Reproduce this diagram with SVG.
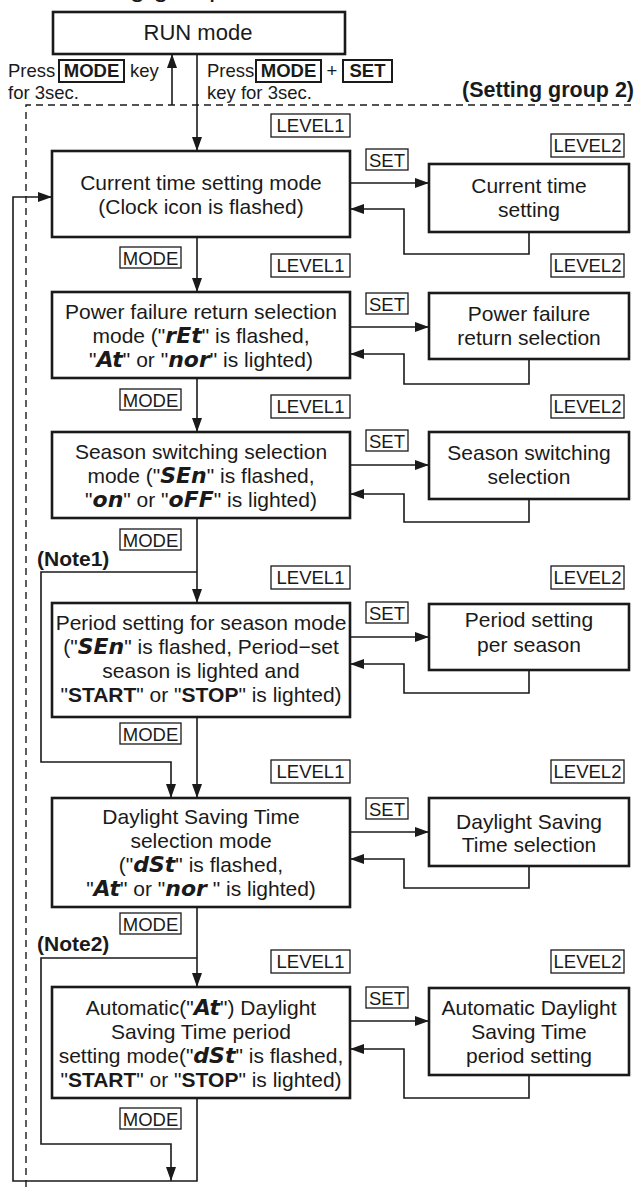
<svg xmlns="http://www.w3.org/2000/svg" width="635" height="1187" viewBox="0 0 635 1187">
<style>
text{font-family:"Liberation Sans",Arial,sans-serif;fill:#1a1a1a}
.t{font-size:21px;text-anchor:middle}
.lb{font-size:18.5px;text-anchor:middle}
.tp{font-size:18.5px}
.b{font-weight:bold}
.seg{font-weight:bold;font-style:italic;font-size:22px;font-family:"DejaVu Sans","Liberation Sans",sans-serif}
.note{font-size:21px;font-weight:bold}
.box{fill:#fff;stroke:#1a1a1a;stroke-width:2.6}
.lbox{fill:#fff;stroke:#1a1a1a;stroke-width:1.3}
.kbox{fill:#fff;stroke:#1a1a1a;stroke-width:2}
.c{fill:none;stroke:#1a1a1a;stroke-width:1.6}
.dash{fill:none;stroke:#1a1a1a;stroke-width:1.4;stroke-dasharray:7 5}
</style>
<defs>
<marker id="ah" viewBox="0 0 14 10" refX="14" refY="5" markerWidth="14" markerHeight="10" markerUnits="userSpaceOnUse" orient="auto">
<path d="M0,0 L14,5 L0,10 z" fill="#1a1a1a"/>
</marker>
</defs>

<text x="58" y="-4" style="font-size:28px">Setting group</text>

<g id="connectors">
<path class="dash" d="M26,1187 V105 H635"/>
<path class="c" d="M172,105 V54" marker-end="url(#ah)"/>
<path class="c" d="M197,54 V151" marker-end="url(#ah)"/>
<path class="c" d="M197,237 V292" marker-end="url(#ah)"/>
<path class="c" d="M197,378 V432" marker-end="url(#ah)"/>
<path class="c" d="M197,518 V603" marker-end="url(#ah)"/>
<path class="c" d="M197,717 V798" marker-end="url(#ah)"/>
<path class="c" d="M197,907 V987" marker-end="url(#ah)"/>
<path class="c" d="M197,572 H41 V762 H171 V798" marker-end="url(#ah)"/>
<path class="c" d="M197,958 H41 V1144 H171 V1181" marker-end="url(#ah)"/>
<path class="c" d="M197,1098 V1181 H13 V197 H52" marker-end="url(#ah)"/>
<path class="c" d="M350,183 H429" marker-end="url(#ah)"/>
<path class="c" d="M529,232 V254 H404 V209 H350" marker-end="url(#ah)"/>
<path class="c" d="M350,327 H429" marker-end="url(#ah)"/>
<path class="c" d="M529,359 V384 H404 V354 H350" marker-end="url(#ah)"/>
<path class="c" d="M350,465 H429" marker-end="url(#ah)"/>
<path class="c" d="M529,499 V522 H404 V494 H350" marker-end="url(#ah)"/>
<path class="c" d="M350,637 H429" marker-end="url(#ah)"/>
<path class="c" d="M529,670 V693 H404 V664 H350" marker-end="url(#ah)"/>
<path class="c" d="M350,832 H429" marker-end="url(#ah)"/>
<path class="c" d="M529,866 V888 H404 V859 H350" marker-end="url(#ah)"/>
<path class="c" d="M350,1021 H429" marker-end="url(#ah)"/>
<path class="c" d="M529,1075 V1098 H404 V1049 H350" marker-end="url(#ah)"/>
</g>

<g id="run">
<rect class="box" x="53" y="12" width="292" height="42"/>
<text class="t" x="198" y="40" style="font-size:22px">RUN mode</text>
</g>

<g id="keys-exit">
<text class="tp" x="8" y="77">Press</text>
<rect class="kbox" x="59" y="60" width="65" height="22"/>
<text class="tp b" x="91.5" y="77" text-anchor="middle">MODE</text>
<text class="tp" x="130" y="77">key</text>
<text class="tp" x="8" y="99">for 3sec.</text>
</g>
<g id="keys-enter">
<text class="tp" x="207" y="77">Press</text>
<rect class="kbox" x="256" y="60" width="65" height="22"/>
<text class="tp b" x="288.5" y="77" text-anchor="middle">MODE</text>
<text class="tp" x="332" y="77" text-anchor="middle">+</text>
<rect class="kbox" x="343" y="60" width="49" height="22"/>
<text class="tp b" x="367.5" y="77" text-anchor="middle">SET</text>
<text class="tp" x="207" y="99">key for 3sec.</text>
</g>
<text class="b" x="634" y="97" text-anchor="end" style="font-size:21.5px">(Setting group 2)</text>

<g id="labels">
<rect class="lbox" x="271" y="114" width="79" height="23"/><text class="lb" x="310.5" y="132">LEVEL1</text>
<rect class="lbox" x="551" y="134" width="73" height="23"/><text class="lb" x="587.5" y="152">LEVEL2</text>
<rect class="lbox" x="366" y="149" width="42" height="21"/><text class="lb" x="387" y="166.5">SET</text>
<rect class="lbox" x="120" y="247" width="61" height="21"/><text class="lb" x="150.5" y="264.5">MODE</text>

<rect class="lbox" x="271" y="254" width="79" height="23"/><text class="lb" x="310.5" y="272">LEVEL1</text>
<rect class="lbox" x="551" y="254" width="73" height="23"/><text class="lb" x="587.5" y="272">LEVEL2</text>
<rect class="lbox" x="366" y="293" width="42" height="21"/><text class="lb" x="387" y="310.5">SET</text>
<rect class="lbox" x="120" y="389" width="61" height="21"/><text class="lb" x="150.5" y="406.5">MODE</text>

<rect class="lbox" x="271" y="395" width="79" height="23"/><text class="lb" x="310.5" y="413">LEVEL1</text>
<rect class="lbox" x="551" y="395" width="73" height="23"/><text class="lb" x="587.5" y="413">LEVEL2</text>
<rect class="lbox" x="366" y="430" width="42" height="21"/><text class="lb" x="387" y="447.5">SET</text>
<rect class="lbox" x="120" y="529" width="61" height="21"/><text class="lb" x="150.5" y="546.5">MODE</text>

<rect class="lbox" x="271" y="566" width="79" height="23"/><text class="lb" x="310.5" y="584">LEVEL1</text>
<rect class="lbox" x="551" y="566" width="73" height="23"/><text class="lb" x="587.5" y="584">LEVEL2</text>
<rect class="lbox" x="366" y="602" width="42" height="21"/><text class="lb" x="387" y="619.5">SET</text>
<rect class="lbox" x="120" y="723" width="61" height="21"/><text class="lb" x="150.5" y="740.5">MODE</text>

<rect class="lbox" x="271" y="760" width="79" height="23"/><text class="lb" x="310.5" y="778">LEVEL1</text>
<rect class="lbox" x="551" y="760" width="73" height="23"/><text class="lb" x="587.5" y="778">LEVEL2</text>
<rect class="lbox" x="366" y="798" width="42" height="21"/><text class="lb" x="387" y="815.5">SET</text>
<rect class="lbox" x="120" y="913" width="61" height="21"/><text class="lb" x="150.5" y="930.5">MODE</text>

<rect class="lbox" x="271" y="950" width="79" height="23"/><text class="lb" x="310.5" y="968">LEVEL1</text>
<rect class="lbox" x="551" y="950" width="73" height="23"/><text class="lb" x="587.5" y="968">LEVEL2</text>
<rect class="lbox" x="366" y="987" width="42" height="21"/><text class="lb" x="387" y="1004.5">SET</text>
<rect class="lbox" x="120" y="1108" width="61" height="21"/><text class="lb" x="150.5" y="1125.5">MODE</text>
</g>

<text class="note" x="37" y="566">(Note1)</text>
<text class="note" x="37" y="951">(Note2)</text>

<g id="n1">
<rect class="box" x="52" y="151" width="298" height="86"/>
<text class="t" x="201" y="190">Current time setting mode</text>
<text class="t" x="201" y="214">(Clock icon is flashed)</text>
</g>
<g id="n2">
<rect class="box" x="429" y="164" width="200" height="68"/>
<text class="t" x="529" y="193">Current time</text>
<text class="t" x="529" y="217">setting</text>
</g>

<g id="n3">
<rect class="box" x="52" y="292" width="298" height="86"/>
<text class="t" x="201" y="319">Power failure return selection</text>
<text class="t" x="201" y="343">mode ("<tspan class="seg">rEt</tspan>" is flashed,</text>
<text class="t" x="201" y="367">"<tspan class="seg">At</tspan>" or "<tspan class="seg">nor</tspan>" is lighted)</text>
</g>
<g id="n4">
<rect class="box" x="429" y="293" width="200" height="66"/>
<text class="t" x="529" y="321">Power failure</text>
<text class="t" x="529" y="345">return selection</text>
</g>

<g id="n5">
<rect class="box" x="52" y="432" width="298" height="86"/>
<text class="t" x="201" y="459">Season switching selection</text>
<text class="t" x="201" y="483">mode ("<tspan class="seg">SEn</tspan>" is flashed,</text>
<text class="t" x="201" y="507">"<tspan class="seg">on</tspan>" or "<tspan class="seg">oFF</tspan>" is lighted)</text>
</g>
<g id="n6">
<rect class="box" x="429" y="432" width="200" height="67"/>
<text class="t" x="529" y="460">Season switching</text>
<text class="t" x="529" y="484">selection</text>
</g>

<g id="n7">
<rect class="box" x="52" y="603" width="298" height="114"/>
<text class="t" x="201" y="630">Period setting for season mode</text>
<text class="t" x="201" y="654">("<tspan class="seg">SEn</tspan>" is flashed, Period−set</text>
<text class="t" x="201" y="678">season is lighted and</text>
<text class="t" x="201" y="702">"<tspan class="b">START</tspan>" or "<tspan class="b">STOP</tspan>" is lighted)</text>
</g>
<g id="n8">
<rect class="box" x="429" y="604" width="200" height="66"/>
<text class="t" x="529" y="627">Period setting</text>
<text class="t" x="529" y="652">per season</text>
</g>

<g id="n9">
<rect class="box" x="52" y="798" width="298" height="109"/>
<text class="t" x="201" y="824">Daylight Saving Time</text>
<text class="t" x="201" y="848">selection mode</text>
<text class="t" x="201" y="872">("<tspan class="seg">dSt</tspan>" is flashed,</text>
<text class="t" x="201" y="896">"<tspan class="seg">At</tspan>" or "<tspan class="seg">nor</tspan> " is lighted)</text>
</g>
<g id="n10">
<rect class="box" x="429" y="798" width="200" height="68"/>
<text class="t" x="529" y="829">Daylight Saving</text>
<text class="t" x="529" y="852">Time selection</text>
</g>

<g id="n11">
<rect class="box" x="52" y="987" width="298" height="111"/>
<text class="t" x="201" y="1015">Automatic("<tspan class="seg">At</tspan>") Daylight</text>
<text class="t" x="201" y="1039">Saving Time period</text>
<text class="t" x="201" y="1063">setting mode("<tspan class="seg">dSt</tspan>" is flashed,</text>
<text class="t" x="201" y="1087">"<tspan class="b">START</tspan>" or "<tspan class="b">STOP</tspan>" is lighted)</text>
</g>
<g id="n12">
<rect class="box" x="429" y="988" width="200" height="87"/>
<text class="t" x="529" y="1015">Automatic Daylight</text>
<text class="t" x="529" y="1039">Saving Time</text>
<text class="t" x="529" y="1063">period setting</text>
</g>
</svg>
